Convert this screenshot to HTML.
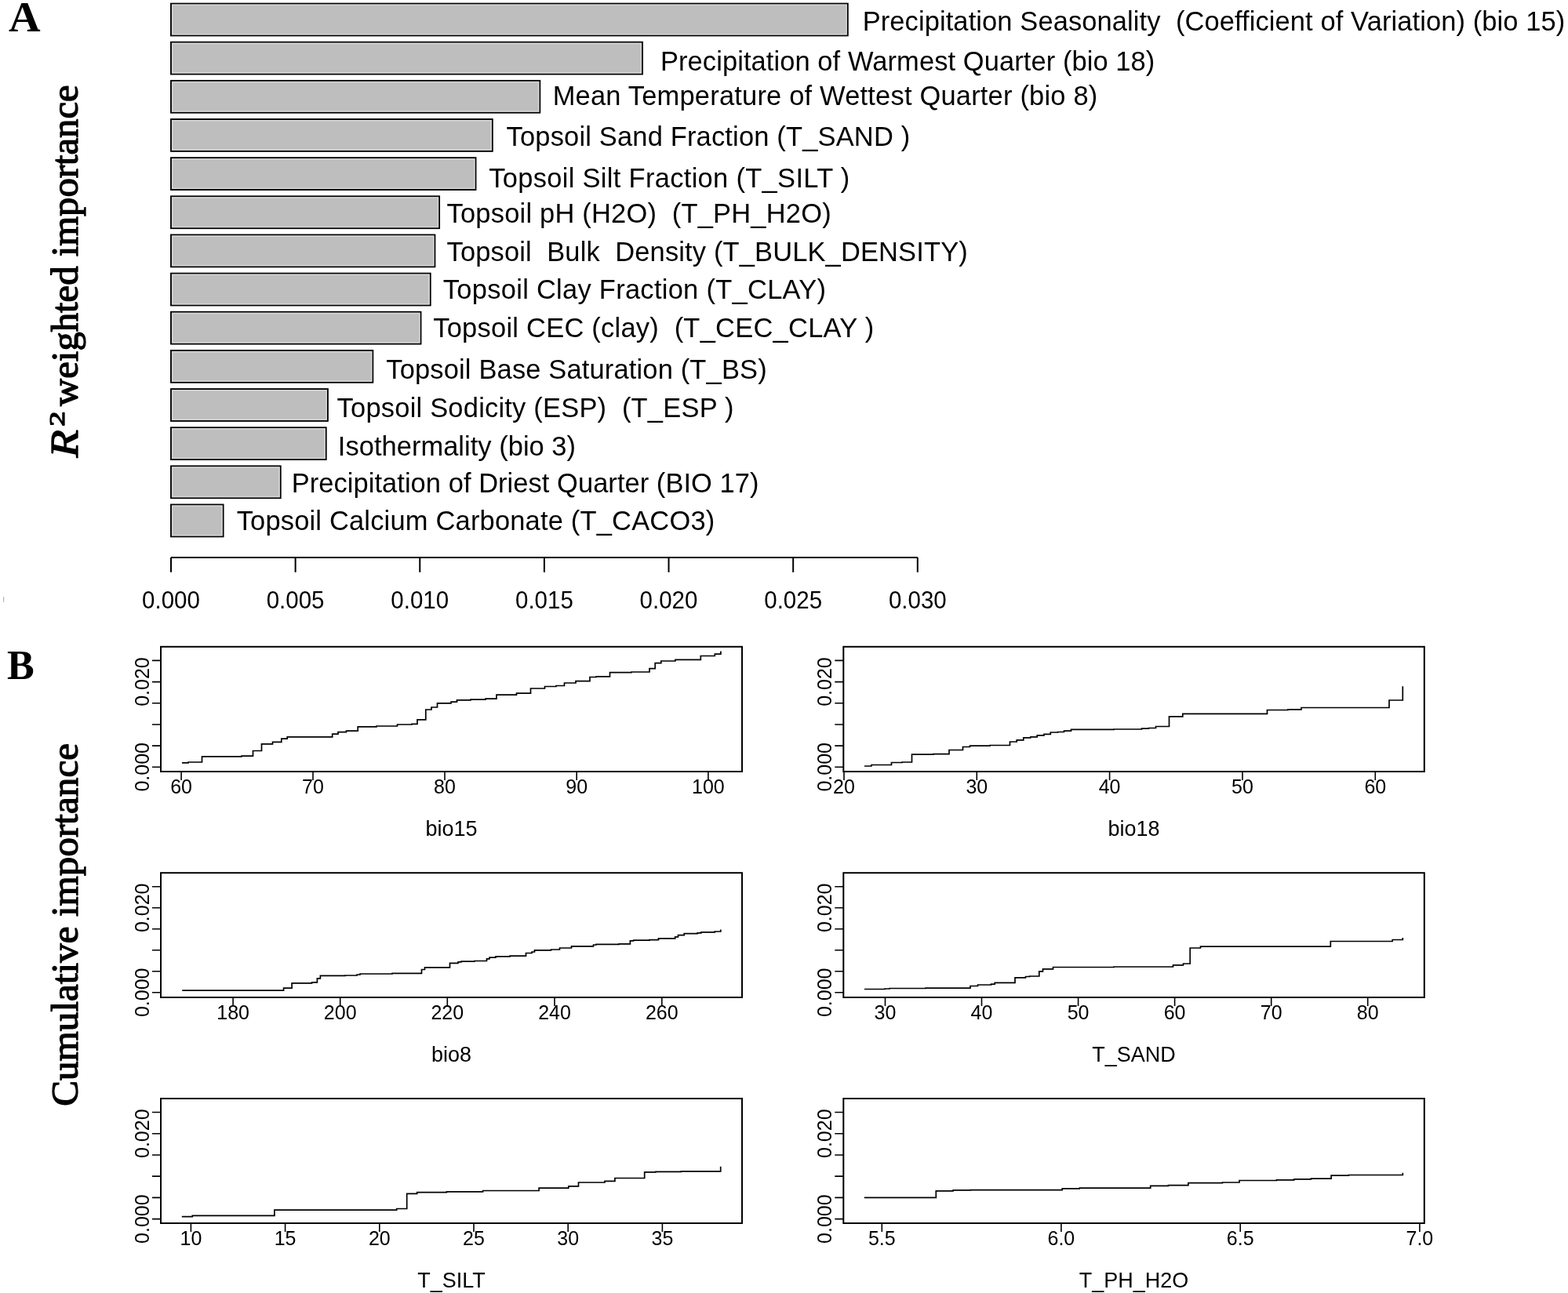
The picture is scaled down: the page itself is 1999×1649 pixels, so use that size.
<!DOCTYPE html>
<html><head><meta charset="utf-8"><title>Figure</title>
<style>
html,body{margin:0;padding:0;background:#fff;width:1999px;height:1649px;overflow:hidden}
svg{display:block}
text{white-space:pre}
.lb{font-family:'Liberation Sans', Arial, sans-serif;font-size:34.5px;fill:#000}
.ta{font-family:'Liberation Sans', Arial, sans-serif;font-size:29.5px;fill:#000;text-anchor:middle}
.tk{font-family:'Liberation Sans', Arial, sans-serif;font-size:25px;fill:#000}
.ti{font-family:'Liberation Sans', Arial, sans-serif;font-size:27px;fill:#000}
.pl{font-family:'Liberation Serif', 'Times New Roman', serif;font-weight:bold;font-size:52px;fill:#000}
.yt{font-family:'Liberation Serif', 'Times New Roman', serif;font-size:48.5px;fill:#000;stroke:#000;stroke-width:1.3px;stroke-linejoin:round}
</style></head><body>
<svg width="1999" height="1649" viewBox="0 0 1999 1649" xml:space="preserve">
<rect width="1999" height="1649" fill="#fff"/>
<rect x="218.00" y="4.60" width="862.80" height="40.80" fill="#bebebe" stroke="#000" stroke-width="1.9"/>
<rect x="219.70" y="6.30" width="859.40" height="37.40" fill="none" stroke="#d4d4d4" stroke-width="1.5"/>
<rect x="218.00" y="53.75" width="601.00" height="40.80" fill="#bebebe" stroke="#000" stroke-width="1.9"/>
<rect x="219.70" y="55.45" width="597.60" height="37.40" fill="none" stroke="#d4d4d4" stroke-width="1.5"/>
<rect x="218.00" y="102.90" width="470.30" height="40.80" fill="#bebebe" stroke="#000" stroke-width="1.9"/>
<rect x="219.70" y="104.60" width="466.90" height="37.40" fill="none" stroke="#d4d4d4" stroke-width="1.5"/>
<rect x="218.00" y="152.05" width="409.80" height="40.80" fill="#bebebe" stroke="#000" stroke-width="1.9"/>
<rect x="219.70" y="153.75" width="406.40" height="37.40" fill="none" stroke="#d4d4d4" stroke-width="1.5"/>
<rect x="218.00" y="201.20" width="388.50" height="40.80" fill="#bebebe" stroke="#000" stroke-width="1.9"/>
<rect x="219.70" y="202.90" width="385.10" height="37.40" fill="none" stroke="#d4d4d4" stroke-width="1.5"/>
<rect x="218.00" y="250.35" width="342.10" height="40.80" fill="#bebebe" stroke="#000" stroke-width="1.9"/>
<rect x="219.70" y="252.05" width="338.70" height="37.40" fill="none" stroke="#d4d4d4" stroke-width="1.5"/>
<rect x="218.00" y="299.50" width="336.40" height="40.80" fill="#bebebe" stroke="#000" stroke-width="1.9"/>
<rect x="219.70" y="301.20" width="333.00" height="37.40" fill="none" stroke="#d4d4d4" stroke-width="1.5"/>
<rect x="218.00" y="348.65" width="330.70" height="40.80" fill="#bebebe" stroke="#000" stroke-width="1.9"/>
<rect x="219.70" y="350.35" width="327.30" height="37.40" fill="none" stroke="#d4d4d4" stroke-width="1.5"/>
<rect x="218.00" y="397.80" width="318.50" height="40.80" fill="#bebebe" stroke="#000" stroke-width="1.9"/>
<rect x="219.70" y="399.50" width="315.10" height="37.40" fill="none" stroke="#d4d4d4" stroke-width="1.5"/>
<rect x="218.00" y="446.95" width="257.30" height="40.80" fill="#bebebe" stroke="#000" stroke-width="1.9"/>
<rect x="219.70" y="448.65" width="253.90" height="37.40" fill="none" stroke="#d4d4d4" stroke-width="1.5"/>
<rect x="218.00" y="496.10" width="199.90" height="40.80" fill="#bebebe" stroke="#000" stroke-width="1.9"/>
<rect x="219.70" y="497.80" width="196.50" height="37.40" fill="none" stroke="#d4d4d4" stroke-width="1.5"/>
<rect x="218.00" y="545.25" width="197.70" height="40.80" fill="#bebebe" stroke="#000" stroke-width="1.9"/>
<rect x="219.70" y="546.95" width="194.30" height="37.40" fill="none" stroke="#d4d4d4" stroke-width="1.5"/>
<rect x="218.00" y="594.40" width="139.70" height="40.80" fill="#bebebe" stroke="#000" stroke-width="1.9"/>
<rect x="219.70" y="596.10" width="136.30" height="37.40" fill="none" stroke="#d4d4d4" stroke-width="1.5"/>
<rect x="218.00" y="643.55" width="66.60" height="40.80" fill="#bebebe" stroke="#000" stroke-width="1.9"/>
<rect x="219.70" y="645.25" width="63.20" height="37.40" fill="none" stroke="#d4d4d4" stroke-width="1.5"/>
<text x="1099.67" y="39.00" class="lb" textLength="895.62" lengthAdjust="spacing" transform="matrix(1 0 0 1.035 0 -1.365)">Precipitation Seasonality  (Coefficient of Variation) (bio 15)</text>
<text x="841.97" y="90.00" class="lb" textLength="630.39" lengthAdjust="spacing" transform="matrix(1 0 0 1.035 0 -3.150)">Precipitation of Warmest Quarter (bio 18)</text>
<text x="704.67" y="134.20" class="lb" textLength="694.60" lengthAdjust="spacing" transform="matrix(1 0 0 1.035 0 -4.697)">Mean Temperature of Wettest Quarter (bio 8)</text>
<text x="645.63" y="186.10" class="lb" textLength="514.58" lengthAdjust="spacing" transform="matrix(1 0 0 1.035 0 -6.513)">Topsoil Sand Fraction (T_SAND )</text>
<text x="623.23" y="238.80" class="lb" textLength="460.09" lengthAdjust="spacing" transform="matrix(1 0 0 1.035 0 -8.358)">Topsoil Silt Fraction (T_SILT )</text>
<text x="569.53" y="283.70" class="lb" textLength="490.23" lengthAdjust="spacing" transform="matrix(1 0 0 1.035 0 -9.929)">Topsoil pH (H2O)  (T_PH_H2O)</text>
<text x="569.53" y="332.60" class="lb" textLength="664.27" lengthAdjust="spacing" transform="matrix(1 0 0 1.035 0 -11.641)">Topsoil  Bulk  Density (T_BULK_DENSITY)</text>
<text x="564.83" y="380.90" class="lb" textLength="488.25" lengthAdjust="spacing" transform="matrix(1 0 0 1.035 0 -13.331)">Topsoil Clay Fraction (T_CLAY)</text>
<text x="552.23" y="430.00" class="lb" textLength="561.92" lengthAdjust="spacing" transform="matrix(1 0 0 1.035 0 -15.050)">Topsoil CEC (clay)  (T_CEC_CLAY )</text>
<text x="492.33" y="483.00" class="lb" textLength="485.36" lengthAdjust="spacing" transform="matrix(1 0 0 1.035 0 -16.905)">Topsoil Base Saturation (T_BS)</text>
<text x="429.63" y="532.40" class="lb" textLength="505.87" lengthAdjust="spacing" transform="matrix(1 0 0 1.035 0 -18.634)">Topsoil Sodicity (ESP)  (T_ESP )</text>
<text x="430.82" y="580.70" class="lb" textLength="303.25" lengthAdjust="spacing" transform="matrix(1 0 0 1.035 0 -20.324)">Isothermality (bio 3)</text>
<text x="371.77" y="627.70" class="lb" textLength="595.72" lengthAdjust="spacing" transform="matrix(1 0 0 1.035 0 -21.969)">Precipitation of Driest Quarter (BIO 17)</text>
<text x="301.63" y="676.30" class="lb" textLength="609.65" lengthAdjust="spacing" transform="matrix(1 0 0 1.035 0 -23.670)">Topsoil Calcium Carbonate (T_CACO3)</text>
<path d="M218.0 711.0H1169.8" stroke="#000" stroke-width="2" fill="none"/>
<path d="M218.00 711.0V729.8" stroke="#000" stroke-width="2" fill="none"/>
<text x="218.00" y="775.5" class="ta" transform="matrix(1 0 0 1.035 0 -27.142)">0.000</text>
<path d="M376.63 711.0V729.8" stroke="#000" stroke-width="2" fill="none"/>
<text x="376.63" y="775.5" class="ta" transform="matrix(1 0 0 1.035 0 -27.142)">0.005</text>
<path d="M535.27 711.0V729.8" stroke="#000" stroke-width="2" fill="none"/>
<text x="535.27" y="775.5" class="ta" transform="matrix(1 0 0 1.035 0 -27.142)">0.010</text>
<path d="M693.90 711.0V729.8" stroke="#000" stroke-width="2" fill="none"/>
<text x="693.90" y="775.5" class="ta" transform="matrix(1 0 0 1.035 0 -27.142)">0.015</text>
<path d="M852.53 711.0V729.8" stroke="#000" stroke-width="2" fill="none"/>
<text x="852.53" y="775.5" class="ta" transform="matrix(1 0 0 1.035 0 -27.142)">0.020</text>
<path d="M1011.17 711.0V729.8" stroke="#000" stroke-width="2" fill="none"/>
<text x="1011.17" y="775.5" class="ta" transform="matrix(1 0 0 1.035 0 -27.142)">0.025</text>
<path d="M1169.80 711.0V729.8" stroke="#000" stroke-width="2" fill="none"/>
<text x="1169.80" y="775.5" class="ta" transform="matrix(1 0 0 1.035 0 -27.142)">0.030</text>
<rect x="4" y="761" width="1.2" height="6.8" fill="#b4b4b4"/>
<text class="pl" transform="translate(11,39.8) scale(1.08,1.06)">A</text>
<text x="9" y="866.4" class="pl">B</text>
<text class="yt" style="font-style:italic;font-size:51px" transform="translate(99.4,583.4) rotate(-90) scale(1.14,1)">R</text>
<text class="yt" style="font-size:28px" transform="translate(82,543.7) rotate(-90) scale(1.38,1)">2</text>
<text class="yt" transform="translate(99.2,517.9) rotate(-90) scale(1.004,1)">weighted importance</text>
<text class="yt" transform="translate(99.2,1410.8) rotate(-90) scale(1.014,1)">Cumulative importance</text>
<rect x="205.0" y="824.8" width="741.00" height="159.20" fill="none" stroke="#000" stroke-width="2"/>
<path d="M205.0 978.30H194.0M205.0 951.12H194.0M205.0 923.94H194.0M205.0 896.76H194.0M205.0 869.58H194.0M205.0 842.40H194.0" stroke="#000" stroke-width="1.6" fill="none"/>
<text class="tk" text-anchor="middle" transform="translate(190.0,978.30) rotate(-90) scale(1,1.035)">0.000</text>
<text class="tk" text-anchor="middle" transform="translate(190.0,869.58) rotate(-90) scale(1,1.035)">0.020</text>
<path d="M231.10 984.0V995.0M399.00 984.0V995.0M567.00 984.0V995.0M735.20 984.0V995.0M902.90 984.0V995.0" stroke="#000" stroke-width="1.6" fill="none"/>
<text class="tk" text-anchor="middle" x="231.10" y="1012.00" transform="matrix(1 0 0 1.035 0 -35.420)">60</text>
<text class="tk" text-anchor="middle" x="399.00" y="1012.00" transform="matrix(1 0 0 1.035 0 -35.420)">70</text>
<text class="tk" text-anchor="middle" x="567.00" y="1012.00" transform="matrix(1 0 0 1.035 0 -35.420)">80</text>
<text class="tk" text-anchor="middle" x="735.20" y="1012.00" transform="matrix(1 0 0 1.035 0 -35.420)">90</text>
<text class="tk" text-anchor="middle" x="902.90" y="1012.00" transform="matrix(1 0 0 1.035 0 -35.420)">100</text>
<text class="ti" text-anchor="middle" x="575.50" y="1065.80" transform="matrix(1 0 0 1.035 0 -37.303)">bio15</text>
<path d="M232 972.8H240V972.0H257.5V964.8H308V964.2H322.5V957.5H333.5V948.8H347.5V946.3H358.8V942.2H366.2V939.8H423.7V936.2H431V933.7H441.5V932.2H456.2V926.8H480V926.0H506.5V924.0H525V923.3H532V917.8H542.8V905.0H550V902.0H557.5V896.8H575V895.2H582.5V892.8H600V892.2H619V891.2H633V886.2H658.5V884.2H676.5V878.0H694.5V875.5H709V874.5H719.5V871.0H734V868.7H752V863.5H760V862.8H777.5V857.6H805V857.0H828V852.6H835.2V845.7H842.8V843.0H860.9V841.3H893.3V836.5H911.3V834.2H918.9V830.6" stroke="#000" stroke-width="1.7" fill="none" stroke-linejoin="miter" stroke-linecap="butt"/>
<rect x="1075.3" y="824.8" width="740.50" height="159.20" fill="none" stroke="#000" stroke-width="2"/>
<path d="M1075.3 978.30H1064.3M1075.3 951.12H1064.3M1075.3 923.94H1064.3M1075.3 896.76H1064.3M1075.3 869.58H1064.3M1075.3 842.40H1064.3" stroke="#000" stroke-width="1.6" fill="none"/>
<text class="tk" text-anchor="middle" transform="translate(1059.6,978.30) rotate(-90) scale(1,1.035)">0.000</text>
<text class="tk" text-anchor="middle" transform="translate(1059.6,869.58) rotate(-90) scale(1,1.035)">0.020</text>
<path d="M1076.00 984.0V995.0M1245.30 984.0V995.0M1414.60 984.0V995.0M1584.00 984.0V995.0M1753.30 984.0V995.0" stroke="#000" stroke-width="1.6" fill="none"/>
<text class="tk" text-anchor="middle" x="1076.00" y="1012.00" transform="matrix(1 0 0 1.035 0 -35.420)">20</text>
<text class="tk" text-anchor="middle" x="1245.30" y="1012.00" transform="matrix(1 0 0 1.035 0 -35.420)">30</text>
<text class="tk" text-anchor="middle" x="1414.60" y="1012.00" transform="matrix(1 0 0 1.035 0 -35.420)">40</text>
<text class="tk" text-anchor="middle" x="1584.00" y="1012.00" transform="matrix(1 0 0 1.035 0 -35.420)">50</text>
<text class="tk" text-anchor="middle" x="1753.30" y="1012.00" transform="matrix(1 0 0 1.035 0 -35.420)">60</text>
<text class="ti" text-anchor="middle" x="1445.55" y="1065.80" transform="matrix(1 0 0 1.035 0 -37.303)">bio18</text>
<path d="M1102 977.0H1111V975.5H1136.5V972.5H1150V972.0H1162.5V962.2H1190V961.7H1210V956.5H1227.5V952.5H1236.5V951.2H1262V950.5H1287.5V946.0H1296.2V943.8H1304.8V940.8H1313.8V939.8H1322.2V937.8H1331V936.3H1339.3V934.0H1348.5V933.5H1356.5V932.2H1365.5V930.3H1420V930.0H1455.5V929.2H1464.5V928.5H1473.5V926.5H1490.5V913.8H1507.8V910.3H1615.5V905.5H1642V904.8H1659V902.5H1771V893.0H1788.3V875.2" stroke="#000" stroke-width="1.7" fill="none" stroke-linejoin="miter" stroke-linecap="butt"/>
<rect x="205.0" y="1113.2" width="741.00" height="158.80" fill="none" stroke="#000" stroke-width="2"/>
<path d="M205.0 1265.80H194.0M205.0 1238.80H194.0M205.0 1211.80H194.0M205.0 1184.80H194.0M205.0 1157.80H194.0M205.0 1130.80H194.0" stroke="#000" stroke-width="1.6" fill="none"/>
<text class="tk" text-anchor="middle" transform="translate(190.0,1265.80) rotate(-90) scale(1,1.035)">0.000</text>
<text class="tk" text-anchor="middle" transform="translate(190.0,1157.80) rotate(-90) scale(1,1.035)">0.020</text>
<path d="M297.10 1272.0V1283.0M433.70 1272.0V1283.0M570.30 1272.0V1283.0M707.00 1272.0V1283.0M843.80 1272.0V1283.0" stroke="#000" stroke-width="1.6" fill="none"/>
<text class="tk" text-anchor="middle" x="297.10" y="1300.00" transform="matrix(1 0 0 1.035 0 -45.500)">180</text>
<text class="tk" text-anchor="middle" x="433.70" y="1300.00" transform="matrix(1 0 0 1.035 0 -45.500)">200</text>
<text class="tk" text-anchor="middle" x="570.30" y="1300.00" transform="matrix(1 0 0 1.035 0 -45.500)">220</text>
<text class="tk" text-anchor="middle" x="707.00" y="1300.00" transform="matrix(1 0 0 1.035 0 -45.500)">240</text>
<text class="tk" text-anchor="middle" x="843.80" y="1300.00" transform="matrix(1 0 0 1.035 0 -45.500)">260</text>
<text class="ti" text-anchor="middle" x="575.50" y="1353.80" transform="matrix(1 0 0 1.035 0 -47.383)">bio8</text>
<path d="M232.2 1263.1H361.6V1260.1H372.1V1253.8H397.6V1252.8H404.4V1247.8H408.4V1244.4H440V1244.0H455V1243.0H459V1242.0H500V1241.3H537.5V1236.5H541.5V1233.8H573.5V1228.3H584V1226.8H588V1226.2H605V1225.5H620.5V1222.8H624V1221.2H632V1219.8H650V1219.2H670.5V1215.5H678V1214.0H681.5V1211.8H702.5V1211.0H713.5V1209.0H728.5V1206.8H756.5V1205.0H760V1204.3H789V1203.8H803.4V1199.9H807.6V1199.2H828V1198.6H839.5V1196.9H860.7V1194.8H864.5V1192.7H872.2V1190.7H889.1V1189.9H893.8V1188.9H911.2V1188.0H918.8V1185.5" stroke="#000" stroke-width="1.7" fill="none" stroke-linejoin="miter" stroke-linecap="butt"/>
<rect x="1075.3" y="1113.2" width="740.50" height="158.80" fill="none" stroke="#000" stroke-width="2"/>
<path d="M1075.3 1265.80H1064.3M1075.3 1238.80H1064.3M1075.3 1211.80H1064.3M1075.3 1184.80H1064.3M1075.3 1157.80H1064.3M1075.3 1130.80H1064.3" stroke="#000" stroke-width="1.6" fill="none"/>
<text class="tk" text-anchor="middle" transform="translate(1059.6,1265.80) rotate(-90) scale(1,1.035)">0.000</text>
<text class="tk" text-anchor="middle" transform="translate(1059.6,1157.80) rotate(-90) scale(1,1.035)">0.020</text>
<path d="M1128.50 1272.0V1283.0M1251.50 1272.0V1283.0M1374.60 1272.0V1283.0M1497.60 1272.0V1283.0M1620.70 1272.0V1283.0M1743.70 1272.0V1283.0" stroke="#000" stroke-width="1.6" fill="none"/>
<text class="tk" text-anchor="middle" x="1128.50" y="1300.00" transform="matrix(1 0 0 1.035 0 -45.500)">30</text>
<text class="tk" text-anchor="middle" x="1251.50" y="1300.00" transform="matrix(1 0 0 1.035 0 -45.500)">40</text>
<text class="tk" text-anchor="middle" x="1374.60" y="1300.00" transform="matrix(1 0 0 1.035 0 -45.500)">50</text>
<text class="tk" text-anchor="middle" x="1497.60" y="1300.00" transform="matrix(1 0 0 1.035 0 -45.500)">60</text>
<text class="tk" text-anchor="middle" x="1620.70" y="1300.00" transform="matrix(1 0 0 1.035 0 -45.500)">70</text>
<text class="tk" text-anchor="middle" x="1743.70" y="1300.00" transform="matrix(1 0 0 1.035 0 -45.500)">80</text>
<text class="ti" text-anchor="middle" x="1445.55" y="1353.80" transform="matrix(1 0 0 1.035 0 -47.383)">T_SAND</text>
<path d="M1102 1261.5H1128V1261.0H1134V1260.5H1180V1260.2H1237V1257.5H1246.5V1256.0H1263.5V1255.2H1268.2V1253.3H1294V1246.8H1307.5V1245.5H1312.5V1245.0H1324.8V1238.8H1329.5V1235.8H1342.5V1233.5H1420V1233.0H1495.5V1230.8H1508.5V1229.0H1517.2V1209.0H1530.5V1207.2H1696.3V1200.5H1775.2V1198.5H1788.3V1196.0" stroke="#000" stroke-width="1.7" fill="none" stroke-linejoin="miter" stroke-linecap="butt"/>
<rect x="205.0" y="1401.0" width="741.00" height="159.00" fill="none" stroke="#000" stroke-width="2"/>
<path d="M205.0 1554.60H194.0M205.0 1527.38H194.0M205.0 1500.16H194.0M205.0 1472.94H194.0M205.0 1445.72H194.0M205.0 1418.50H194.0" stroke="#000" stroke-width="1.6" fill="none"/>
<text class="tk" text-anchor="middle" transform="translate(190.0,1554.60) rotate(-90) scale(1,1.035)">0.000</text>
<text class="tk" text-anchor="middle" transform="translate(190.0,1445.72) rotate(-90) scale(1,1.035)">0.020</text>
<path d="M243.40 1560.0V1571.0M363.60 1560.0V1571.0M483.80 1560.0V1571.0M604.00 1560.0V1571.0M724.20 1560.0V1571.0M844.40 1560.0V1571.0" stroke="#000" stroke-width="1.6" fill="none"/>
<text class="tk" text-anchor="middle" x="243.40" y="1588.00" transform="matrix(1 0 0 1.035 0 -55.580)">10</text>
<text class="tk" text-anchor="middle" x="363.60" y="1588.00" transform="matrix(1 0 0 1.035 0 -55.580)">15</text>
<text class="tk" text-anchor="middle" x="483.80" y="1588.00" transform="matrix(1 0 0 1.035 0 -55.580)">20</text>
<text class="tk" text-anchor="middle" x="604.00" y="1588.00" transform="matrix(1 0 0 1.035 0 -55.580)">25</text>
<text class="tk" text-anchor="middle" x="724.20" y="1588.00" transform="matrix(1 0 0 1.035 0 -55.580)">30</text>
<text class="tk" text-anchor="middle" x="844.40" y="1588.00" transform="matrix(1 0 0 1.035 0 -55.580)">35</text>
<text class="ti" text-anchor="middle" x="575.50" y="1641.80" transform="matrix(1 0 0 1.035 0 -57.463)">T_SILT</text>
<path d="M231.8 1551.6H245.3V1550.3H349.9V1543.1H505.7V1541.5H518.7V1522.4H531.7V1520.7H569.4V1519.8H615.6V1518.5H687.1V1515.1H724.8V1512.9H737.5V1508.0H771V1506.3H783.9V1502.5H821.7V1494.8H835.9V1494.4H868.3V1493.8H918.7V1487.7" stroke="#000" stroke-width="1.7" fill="none" stroke-linejoin="miter" stroke-linecap="butt"/>
<rect x="1075.3" y="1401.0" width="740.50" height="159.00" fill="none" stroke="#000" stroke-width="2"/>
<path d="M1075.3 1554.60H1064.3M1075.3 1527.38H1064.3M1075.3 1500.16H1064.3M1075.3 1472.94H1064.3M1075.3 1445.72H1064.3M1075.3 1418.50H1064.3" stroke="#000" stroke-width="1.6" fill="none"/>
<text class="tk" text-anchor="middle" transform="translate(1059.6,1554.60) rotate(-90) scale(1,1.035)">0.000</text>
<text class="tk" text-anchor="middle" transform="translate(1059.6,1445.72) rotate(-90) scale(1,1.035)">0.020</text>
<path d="M1124.30 1560.0V1571.0M1352.90 1560.0V1571.0M1581.20 1560.0V1571.0M1809.90 1560.0V1571.0" stroke="#000" stroke-width="1.6" fill="none"/>
<text class="tk" text-anchor="middle" x="1124.30" y="1588.00" transform="matrix(1 0 0 1.035 0 -55.580)">5.5</text>
<text class="tk" text-anchor="middle" x="1352.90" y="1588.00" transform="matrix(1 0 0 1.035 0 -55.580)">6.0</text>
<text class="tk" text-anchor="middle" x="1581.20" y="1588.00" transform="matrix(1 0 0 1.035 0 -55.580)">6.5</text>
<text class="tk" text-anchor="middle" x="1809.90" y="1588.00" transform="matrix(1 0 0 1.035 0 -55.580)">7.0</text>
<text class="ti" text-anchor="middle" x="1445.55" y="1641.80" transform="matrix(1 0 0 1.035 0 -57.463)">T_PH_H2O</text>
<path d="M1101.8 1527.3H1193.3V1518.8H1215.1V1517.9H1237.6V1517.6H1354.2V1515.8H1376.3V1515.1H1466.7V1512.3H1489.5V1511.6H1514.9V1508.6H1558.4V1508.0H1580V1505.5H1627.5V1504.8H1649.8V1503.9H1671.4V1503.2H1697.1V1499.2H1719.4V1498.5H1788.3V1495.8" stroke="#000" stroke-width="1.7" fill="none" stroke-linejoin="miter" stroke-linecap="butt"/>
</svg>
</body></html>
